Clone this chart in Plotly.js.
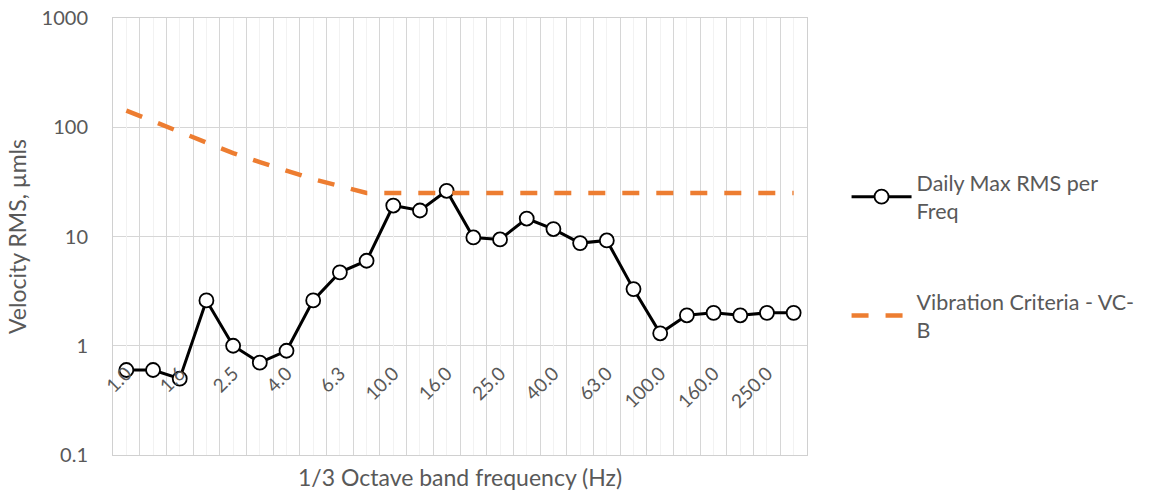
<!DOCTYPE html>
<html>
<head>
<meta charset="utf-8">
<script src="https://cdn.plot.ly/plotly-3.0.1.min.js"></script>
<style>html,body{margin:0;padding:0;background:#fff;}#chart{width:1152px;height:494px;}</style>
</head>
<body>
<div id="chart"></div>
<script>
const categories = ['1.0','1.3','1.6','2.0','2.5','3.2','4.0','5.0','6.3','8.0','10.0','12.5','16.0','20.0','25.0','31.5','40.0','50.0','63.0','80.0','100.0','125.0','160.0','200.0','250.0','315.0'];
const dailyMaxRms = [0.6,0.6,0.5,2.6,1.0,0.7,0.9,2.6,4.7,6.0,19.2,17.3,26.2,9.8,9.4,14.6,11.7,8.7,9.2,3.3,1.3,1.9,2.0,1.9,2.0,2.0];
const vcB = [142,113,90,72,58,48,40,33.5,29,25,25,25,25,25,25,25,25,25,25,25,25,25,25,25,25,25];
const tickIndices = [0,2,4,6,8,10,12,14,16,18,20,22,24];
const tickLabels = tickIndices.map(i => categories[i]);
const yTickVals = [0.1,1,10,100,1000];
const yTickText = ['0.1','1','10','100','1000'];
const categoryIndex = categories.map((c, i) => i);

const FONT = 'Lato, "Open Sans", sans-serif';
const GREY = '#595959';

const traces = [
  {
    x: categories, y: dailyMaxRms, type: 'scatter', mode: 'lines+markers',
    name: 'Daily Max RMS per<br>Freq', legendgroup: 'a',
    line: {color: '#000000', width: 3},
    marker: {symbol: 'circle', size: 14, color: '#ffffff', line: {color: '#000000', width: 1.8}},
    xaxis: 'x', yaxis: 'y'
  },
  {
    x: categoryIndex, y: vcB, type: 'scatter', mode: 'lines',
    name: 'Vibration Criteria - VC-<br>B', legendgroup: 'b',
    line: {color: '#ED7D31', width: 4.5, dash: '17px,17px'},
    xaxis: 'x2', yaxis: 'y'
  }
];

const layout = {
  width: 1152, height: 494,
  margin: {l: 113, r: 343, t: 18, b: 39},
  paper_bgcolor: '#ffffff', plot_bgcolor: '#ffffff',
  font: {family: FONT, color: GREY, size: 19},
  showlegend: true,
  legend: {x: 1.057, y: 0.67, xanchor: 'left', yanchor: 'top', font: {family: FONT, size: 21.5, color: GREY},
           tracegroupgap: 60, itemwidth: 60, bgcolor: 'rgba(0,0,0,0)'},
  xaxis: {
    type: 'category', categoryarray: categories, categoryorder: 'array',
    range: [-0.5, 25.5], tickson: 'boundaries', showgrid: true, gridcolor: '#d6d6d6', gridwidth: 1,
    showticklabels: false, ticks: '', showline: true, mirror: true, linecolor: '#d0d0d0', linewidth: 1, zeroline: false
  },
  xaxis2: {
    type: 'linear', overlaying: 'x', anchor: 'free', position: 0.25, range: [-0.5, 25.5],
    tickmode: 'array', tickvals: tickIndices, ticktext: tickLabels, tickangle: -45,
    tickfont: {family: FONT, size: 19, color: GREY}, ticklabelstandoff: 12,
    showgrid: true, gridcolor: '#f2f2f2', gridwidth: 1,
    minor: {tick0: 0, dtick: 1, showgrid: true, gridcolor: '#f2f2f2', gridwidth: 1, ticks: ''},
    showline: false, zeroline: false, ticks: ''
  },
  yaxis: {
    type: 'log', range: [-1, 3], tickmode: 'array', tickvals: yTickVals, ticktext: yTickText,
    showgrid: true, gridcolor: '#d6d6d6', gridwidth: 1, zeroline: false,
    showline: true, mirror: true, linecolor: '#d0d0d0', linewidth: 1, ticks: '',
    tickfont: {family: FONT, size: 20, color: GREY}, ticklabelstandoff: 20,
    title: {text: 'Velocity RMS, µmls', font: {family: FONT, size: 23, color: GREY}, standoff: 8}
  },
  annotations: [
    {text: '1/3 Octave band frequency (Hz)', xref: 'paper', yref: 'paper', x: 0.5, y: -0.05,
     xanchor: 'center', yanchor: 'middle', showarrow: false, font: {family: FONT, size: 23, color: GREY}}
  ]
};

Plotly.newPlot('chart', traces, layout, {displayModeBar: false, staticPlot: true});
</script>
</body>
</html>
